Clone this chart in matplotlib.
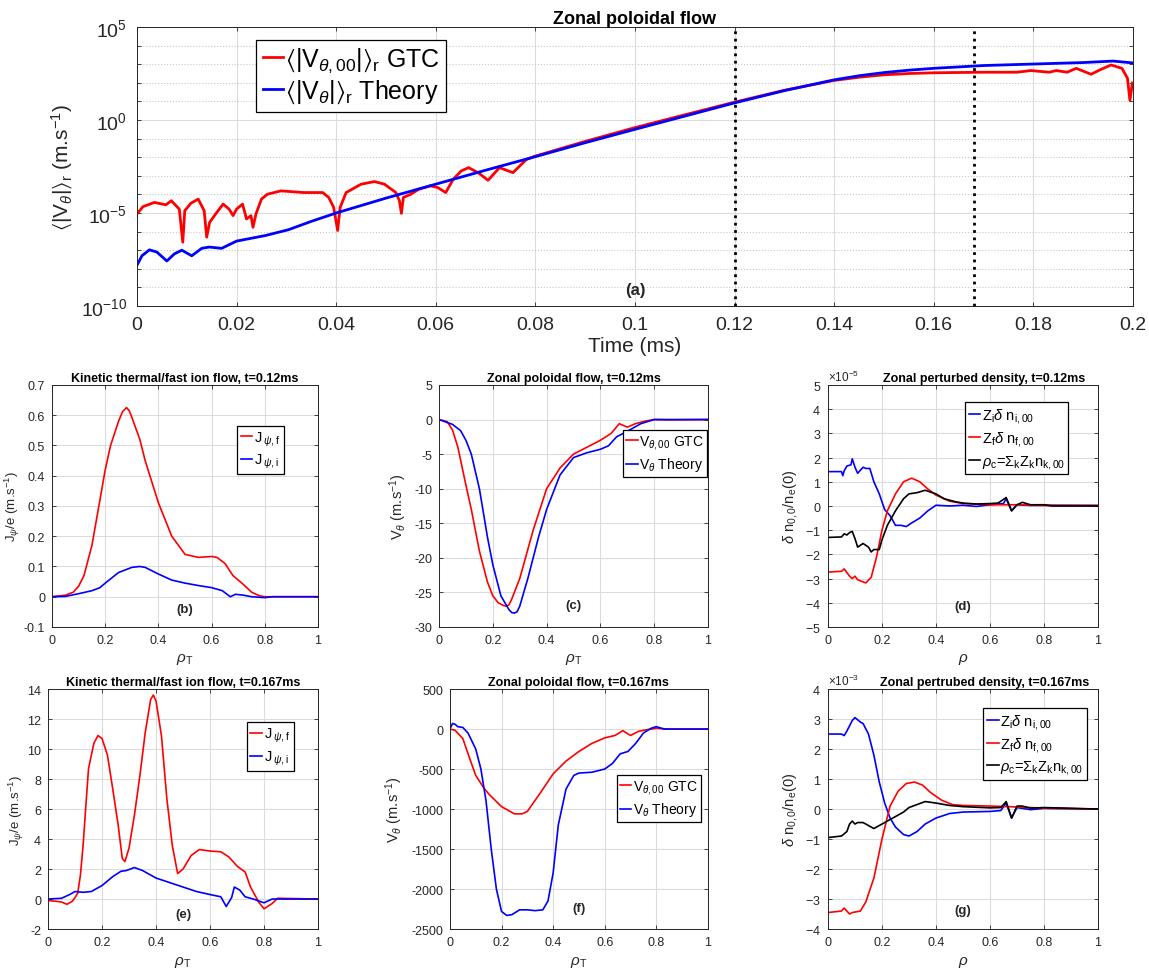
import numpy as np
import matplotlib
matplotlib.use("Agg")
import matplotlib.pyplot as plt
from matplotlib.ticker import FuncFormatter, NullFormatter, ScalarFormatter

plt.rcParams['font.family'] = ['Liberation Sans', 'DejaVu Sans']
plt.rcParams['mathtext.fontset'] = 'custom'
plt.rcParams['mathtext.rm'] = 'Liberation Sans'
plt.rcParams['mathtext.it'] = 'Liberation Sans:italic'
plt.rcParams['mathtext.bf'] = 'Liberation Sans:bold'
plt.rcParams['mathtext.fallback'] = 'stixsans'
plt.rcParams['axes.unicode_minus'] = False

# ---- (a) time history, log10 of <|V|>_r ----
t_gtc = [0, 0.0012, 0.0035, 0.0058, 0.0069, 0.0085, 0.0092, 0.0096, 0.0108, 0.0123,
         0.0135, 0.014, 0.0146, 0.0158, 0.0173, 0.0185, 0.0193, 0.02, 0.0212, 0.022,
         0.0229, 0.0233, 0.0239, 0.025, 0.0262, 0.0289, 0.0335, 0.0373, 0.0385, 0.0395,
         0.0403, 0.0408, 0.042, 0.045, 0.0477, 0.0497, 0.052, 0.0527, 0.0531, 0.0535,
         0.055, 0.0566, 0.0589, 0.0604, 0.062, 0.0635, 0.0651, 0.0666, 0.0685, 0.0705,
         0.0728, 0.0755, 0.0782, 0.08, 0.09, 0.1, 0.11, 0.12, 0.13, 0.14, 0.145, 0.15,
         0.155, 0.16, 0.17, 0.1767, 0.1795, 0.1832, 0.1846, 0.1868, 0.1886, 0.1916,
         0.1934, 0.1956, 0.1978, 0.1989, 0.1994, 0.1999]
logv_gtc = [-5.05, -4.66, -4.43, -4.56, -4.34, -4.79, -6.57, -4.88, -4.48, -4.25,
            -4.88, -6.30, -5.50, -5.05, -4.52, -4.79, -5.14, -4.79, -4.52, -5.32,
            -5.14, -5.77, -5.05, -4.25, -3.99, -3.81, -3.90, -3.90, -4.16, -4.70,
            -5.94, -4.70, -3.90, -3.45, -3.31, -3.45, -3.90, -4.34, -5.02, -4.16,
            -3.99, -3.72, -3.54, -3.63, -3.90, -3.19, -2.74, -2.56, -2.83, -3.24,
            -2.56, -2.83, -2.12, -1.94, -1.15, -0.41, 0.28, 0.96, 1.60, 2.13, 2.30, 2.43,
            2.50, 2.54, 2.57, 2.57, 2.66, 2.57, 2.66, 2.57, 2.78, 2.46,
            2.70, 2.96, 2.78, 2.25, 1.05, 1.99]
t_th = [0, 0.001, 0.0025, 0.004, 0.006, 0.0075, 0.009, 0.011, 0.013, 0.0145, 0.017,
        0.02, 0.0258, 0.0304, 0.035, 0.04, 0.05, 0.06, 0.07, 0.08, 0.09, 0.1, 0.11,
        0.12, 0.13, 0.14, 0.145, 0.15, 0.155, 0.16, 0.17, 0.18, 0.19, 0.196, 0.2]
logv_th = [-7.81, -7.3, -6.98, -7.1, -7.58, -7.2, -7.0, -7.3, -6.9, -6.83, -6.9,
           -6.51, -6.21, -5.9, -5.45, -5.0, -4.2, -3.45, -2.7, -1.97, -1.22, -0.5, 0.21,
           0.92, 1.58, 2.16, 2.38, 2.55, 2.68, 2.78, 2.93, 3.01, 3.09, 3.17, 3.07]
t_marks = [0.12, 0.168]

# ---- (b) kinetic flow t=0.12ms ----
rho_b_f = [0, 0.05, 0.08, 0.1, 0.12, 0.15, 0.18, 0.2, 0.22, 0.25, 0.265, 0.28, 0.29, 0.3,
           0.33, 0.35, 0.4, 0.45, 0.5, 0.55, 0.6, 0.62, 0.65, 0.68, 0.72, 0.75, 0.78, 0.8,
           1.0]
jf_b = [0, 0.005, 0.015, 0.035, 0.07, 0.17, 0.32, 0.42, 0.5, 0.58, 0.612, 0.625, 0.615,
        0.593, 0.52, 0.45, 0.31, 0.2, 0.14, 0.13, 0.133, 0.13, 0.11, 0.07, 0.04, 0.015,
        0.003, 0, 0]
rho_b_i = [0, 0.05, 0.1, 0.15, 0.18, 0.2, 0.25, 0.3, 0.33, 0.35, 0.4, 0.45, 0.5, 0.55,
           0.6, 0.64, 0.67, 0.69, 0.72, 0.75, 0.8, 0.83, 1.0]
ji_b = [0, 0.001, 0.01, 0.02, 0.03, 0.045, 0.08, 0.097, 0.1, 0.097, 0.075, 0.055, 0.045,
        0.037, 0.03, 0.02, 0.0, 0.008, 0.005, 0.0, -0.003, 0, 0]

# ---- (c) zonal flow t=0.12ms ----
rho_c_g = [0, 0.03, 0.05, 0.07, 0.1, 0.12, 0.15, 0.18, 0.2, 0.22, 0.24, 0.25, 0.26, 0.27,
           0.3, 0.35, 0.4, 0.45, 0.5, 0.55, 0.6, 0.64, 0.67, 0.7, 0.73, 0.77, 0.8, 0.85,
           1.0]
vg_c = [0, -0.3, -1.5, -4, -9.5, -13, -19, -23.5, -25.5, -26.5, -26.9, -27, -26.8, -26,
        -23, -16, -10, -7, -5, -4, -3, -2, -0.6, -1.1, -0.6, -0.2, 0, -0.05, 0]
rho_c_t = [0, 0.05, 0.08, 0.1, 0.12, 0.15, 0.18, 0.2, 0.23, 0.26, 0.27, 0.28, 0.29, 0.3,
           0.33, 0.37, 0.4, 0.45, 0.5, 0.55, 0.6, 0.63, 0.66, 0.7, 0.75, 0.8, 0.85, 1.0]
vt_c = [0, -0.7, -1.6, -3, -5, -10, -17, -21, -25.5, -27.5, -27.9, -28, -27.8, -27,
        -23, -17, -13, -8, -5.5, -4.8, -4.3, -3.8, -2.5, -1.7, -0.6, 0, 0, 0]

# ---- (d) zonal density t=0.12ms (units 1e-5) ----
rho_d_i = [0, 0.05, 0.055, 0.06, 0.07, 0.085, 0.09, 0.1, 0.11, 0.13, 0.14, 0.155, 0.17,
           0.19, 0.21, 0.23, 0.25, 0.27, 0.29, 0.31, 0.34, 0.37, 0.4, 0.45, 0.5, 0.55,
           0.6, 0.65, 0.66, 0.68, 0.7, 0.75, 0.8, 1.0]
ni_d = [1.42, 1.42, 1.25, 1.45, 1.65, 1.7, 1.95, 1.6, 1.35, 1.6, 1.55, 1.55, 1.0,
        0.5, -0.15, -0.4, -0.8, -0.8, -0.85, -0.7, -0.5, -0.2, 0.03, 0, 0.03, -0.02,
        0.05, 0.1, 0.3, -0.2, 0.05, 0.02, 0.03, 0.02]
rho_d_f = [0, 0.05, 0.06, 0.08, 0.09, 0.1, 0.11, 0.14, 0.16, 0.18, 0.2, 0.22, 0.25, 0.28,
           0.31, 0.34, 0.37, 0.4, 0.45, 0.5, 0.6, 0.7, 0.8, 1.0]
nf_d = [-2.73, -2.7, -2.6, -2.9, -3.0, -2.9, -3.05, -3.18, -2.95, -2.1, -1.0, -0.2, 0.5,
        1.0, 1.15, 1.0, 0.7, 0.45, 0.2, 0.1, 0.05, 0.05, 0.02, 0.02]
rho_d_c = [0, 0.05, 0.06, 0.07, 0.08, 0.09, 0.1, 0.11, 0.13, 0.15, 0.16, 0.17, 0.19, 0.2,
           0.22, 0.25, 0.28, 0.3, 0.33, 0.36, 0.4, 0.43, 0.47, 0.5, 0.55, 0.6, 0.63,
           0.66, 0.68, 0.7, 0.72, 0.75, 0.8, 0.83, 1.0]
nc_d = [-1.3, -1.28, -1.15, -1.2, -1.1, -1.05, -1.35, -1.7, -1.55, -1.7, -1.9, -1.8,
        -1.8, -1.4, -0.8, -0.2, 0.3, 0.5, 0.55, 0.65, 0.5, 0.3, 0.18, 0.12, 0.08, 0.1,
        0.12, 0.35, -0.2, 0.05, 0.15, 0.05, 0.05, 0, 0]

# ---- (e) kinetic flow t=0.167ms ----
rho_e_f = [0, 0.03, 0.05, 0.07, 0.09, 0.1, 0.11, 0.12, 0.13, 0.14, 0.15, 0.17, 0.185,
           0.2, 0.22, 0.24, 0.26, 0.275, 0.285, 0.3, 0.32, 0.34, 0.36, 0.38, 0.39, 0.4,
           0.42, 0.44, 0.46, 0.48, 0.5, 0.53, 0.56, 0.6, 0.64, 0.67, 0.7, 0.73, 0.75,
           0.78, 0.8, 0.83, 0.85, 1.0]
jf_e = [-0.1, -0.15, -0.2, -0.35, -0.15, 0.1, 0.4, 1.6, 3.6, 6.2, 8.7, 10.4, 10.9,
        10.7, 9.6, 7.3, 4.9, 2.7, 2.5, 3.4, 5.6, 8.2, 11.1, 13.3, 13.6, 13.2,
        10.9, 6.7, 3.6, 1.7, 2.0, 2.9, 3.3, 3.2, 3.15, 2.8, 2.2, 1.8, 0.8, -0.2,
        -0.65, -0.3, 0.05, 0]
rho_e_i = [0, 0.05, 0.08, 0.1, 0.13, 0.16, 0.2, 0.24, 0.27, 0.29, 0.32, 0.35, 0.4, 0.45,
           0.5, 0.55, 0.6, 0.64, 0.66, 0.68, 0.69, 0.71, 0.73, 0.76, 0.8, 0.83, 1.0]
ji_e = [0, 0.05, 0.3, 0.5, 0.45, 0.5, 0.9, 1.5, 1.85, 1.9, 2.1, 1.9, 1.4, 1.1,
        0.8, 0.5, 0.3, 0.15, -0.5, 0.1, 0.8, 0.6, 0.15, 0, -0.25, 0, 0]

# ---- (f) zonal flow t=0.167ms ----
rho_f_g = [0, 0.02, 0.05, 0.08, 0.1, 0.13, 0.15, 0.2, 0.25, 0.28, 0.3, 0.35, 0.4, 0.45,
           0.5, 0.55, 0.6, 0.64, 0.67, 0.7, 0.73, 0.76, 0.8, 0.85, 1.0]
vg_f = [0, -15, -120, -400, -580, -730, -810, -970, -1060, -1060, -1030, -800, -560,
        -400, -280, -180, -110, -80, -20, -80, -30, -10, 10, 0, 0]
rho_f_t = [0, 0.01, 0.02, 0.03, 0.05, 0.07, 0.1, 0.12, 0.14, 0.16, 0.18, 0.2, 0.22, 0.24,
           0.27, 0.3, 0.33, 0.36, 0.38, 0.4, 0.42, 0.45, 0.48, 0.5, 0.55, 0.6, 0.63,
           0.66, 0.69, 0.72, 0.75, 0.78, 0.8, 0.83, 1.0]
vt_f = [0, 70, 60, 30, 20, -50, -250, -500, -900, -1500, -2000, -2280, -2330, -2320,
        -2260, -2260, -2270, -2260, -2150, -1800, -1200, -750, -580, -550, -540, -500,
        -430, -310, -280, -180, -50, 10, 30, 0, 0]

# ---- (g) zonal density t=0.167ms (units 1e-3) ----
rho_g_i = [0, 0.05, 0.06, 0.07, 0.09, 0.1, 0.12, 0.13, 0.15, 0.17, 0.19, 0.21, 0.23,
           0.25, 0.28, 0.3, 0.33, 0.36, 0.4, 0.45, 0.5, 0.6, 0.64, 0.66, 0.68, 0.7,
           0.75, 0.8, 1.0]
ni_g = [2.5, 2.5, 2.45, 2.6, 2.95, 3.05, 2.9, 2.85, 2.5, 1.8, 0.9, 0.2, -0.3, -0.6,
        -0.85, -0.9, -0.75, -0.5, -0.3, -0.15, -0.1, -0.08, -0.05, 0.2, -0.3, 0.05,
        -0.02, 0.02, 0]
rho_g_f = [0, 0.05, 0.06, 0.08, 0.09, 0.12, 0.14, 0.17, 0.2, 0.23, 0.26, 0.29, 0.32,
           0.35, 0.38, 0.42, 0.46, 0.5, 0.6, 0.7, 0.8, 1.0]
nf_g = [-3.45, -3.4, -3.3, -3.5, -3.45, -3.4, -3.1, -2.3, -1.0, 0.1, 0.6, 0.85, 0.9,
        0.8, 0.55, 0.3, 0.15, 0.12, 0.1, 0.07, 0.03, 0]
rho_g_c = [0, 0.05, 0.07, 0.08, 0.09, 0.1, 0.11, 0.13, 0.15, 0.17, 0.2, 0.23, 0.26,
           0.28, 0.3, 0.33, 0.36, 0.4, 0.45, 0.5, 0.6, 0.64, 0.66, 0.68, 0.7, 0.72,
           0.75, 0.8, 1.0]
nc_g = [-0.95, -0.9, -0.75, -0.5, -0.4, -0.5, -0.45, -0.45, -0.55, -0.65, -0.5, -0.35,
        -0.2, -0.1, 0.05, 0.15, 0.25, 0.2, 0.12, 0.08, 0.04, 0.05, 0.25, -0.3, 0.1,
        0.1, 0.03, 0.05, 0]

TXT = '#262626'
GRID = '#dcdcdc'


def style(ax, fs=9, pad=4):
    ax.tick_params(direction='in', top=True, right=True, labelsize=fs, colors=TXT,
                   length=3, width=0.6, pad=pad)
    for s in ax.spines.values():
        s.set_color(TXT)
        s.set_linewidth(0.7)
    ax.grid(True, color=GRID, lw=0.8)
    ax.set_axisbelow(True)
    ax.xaxis.set_major_formatter(FuncFormatter(lambda v, p: '%g' % round(v, 6)))


def legend(ax, loc_xy, fs, spacing=0.3):
    lg = ax.legend(loc='upper left', bbox_to_anchor=loc_xy, fontsize=fs, frameon=True,
                   fancybox=False, edgecolor='k', handlelength=0.8, handletextpad=0.1,
                   borderpad=0.25, labelspacing=spacing, borderaxespad=0, framealpha=1)
    lg.get_frame().set_linewidth(0.9)
    return lg


fig = plt.figure(figsize=(11.49, 9.70), dpi=100)

# (a)
ax = fig.add_axes([0.1192, 0.6835, 0.8668, 0.2876])
ax.plot(t_gtc, 10.0 ** np.array(logv_gtc), color='r', lw=2,
        label=r'$\langle$|V$_{\theta,00}$|$\rangle_\mathrm{r}$ GTC')
ax.plot(t_th, 10.0 ** np.array(logv_th), color='b', lw=2,
        label=r'$\langle$|V$_{\theta}$|$\rangle_\mathrm{r}$ Theory')
for tm in t_marks:
    ax.axvline(tm, color='k', ls=':', lw=2)
ax.set_yscale('log')
ax.set_xlim(0, 0.2)
ax.set_ylim(1e-10, 1e5)
style(ax, fs=14, pad=7)
ax.set_xticks(np.arange(0, 0.2001, 0.02))
ax.set_yticks([1e-10, 1e-5, 1e0, 1e5])
ax.set_yticks([10.0 ** k for k in range(-9, 5) if k % 5], minor=True)
ax.yaxis.set_minor_formatter(NullFormatter())
ax.tick_params(which='minor', direction='in', right=True, length=3, width=0.6, colors=TXT)
ax.grid(True, which='minor', axis='y', color='#c8c8c8', ls=':', lw=0.8)
ax.set_xlabel('Time (ms)', fontsize=15, color=TXT, labelpad=2)
ax.set_ylabel(r'$\langle$|V$_\theta$|$\rangle_\mathrm{r}$ (m.s$^{-1}$)', fontsize=15,
              color=TXT)
ax.set_title('Zonal poloidal flow', fontsize=13, fontweight='bold', pad=3)
ax.text(0.5, 0.06, '(a)', transform=ax.transAxes, ha='center', va='center',
        fontsize=12, fontweight='bold', color=TXT)
legend(ax, (0.12, 0.955), 18, spacing=0.15)

panels = [
    ('b', [0.0453, 0.3526, 0.2315, 0.2495]),
    ('c', [0.3821, 0.3526, 0.2341, 0.2495]),
    ('d', [0.7206, 0.3526, 0.2350, 0.2495]),
    ('e', [0.0418, 0.0412, 0.2350, 0.2474]),
    ('f', [0.3916, 0.0412, 0.2245, 0.2474]),
    ('g', [0.7206, 0.0412, 0.2350, 0.2474]),
]
axs = {k: fig.add_axes(r) for k, r in panels}

lab_j = [r'J$\,_{\psi,\mathrm{f}}$', r'J$\,_{\psi,\mathrm{i}}$']
lab_v = [r'V$_{\theta,00}$ GTC', r'V$_\theta$ Theory']
lab_n = [r'Z$_\mathrm{i}\delta$ n$_\mathrm{i,00}$', r'Z$_\mathrm{f}\delta$ n$_\mathrm{f,00}$',
         r'$\rho_\mathrm{c}$=$\Sigma_\mathrm{k}$Z$_\mathrm{k}$n$_\mathrm{k,00}$']

YL = 10.5

# (b)
a = axs['b']
a.plot(rho_b_f, jf_b, 'r', lw=1.2, label=lab_j[0])
a.plot(rho_b_i, ji_b, 'b', lw=1.2, label=lab_j[1])
a.set_ylim(-0.1, 0.7)
a.set_title('Kinetic thermal/fast ion flow, t=0.12ms', fontsize=9, fontweight='bold', pad=3)
a.set_ylabel(r'J$_\psi$/e (m.s$^{-1}$)', fontsize=9.5, color=TXT, labelpad=1)
legend(a, (0.695, 0.832), 10.5)

# (c)
a = axs['c']
a.plot(rho_c_g, vg_c, 'r', lw=1.2, label=lab_v[0])
a.plot(rho_c_t, vt_c, 'b', lw=1.2, label=lab_v[1])
a.set_ylim(-30, 5)
a.set_title('Zonal poloidal flow, t=0.12ms', fontsize=9, fontweight='bold', pad=3)
a.set_ylabel(r'V$_\theta$ (m.s$^{-1}$)', fontsize=YL, color=TXT)
legend(a, (0.684, 0.815), 10)

# (d)
a = axs['d']
a.plot(rho_d_i, np.array(ni_d) * 1e-5, 'b', lw=1.2, label=lab_n[0])
a.plot(rho_d_f, np.array(nf_d) * 1e-5, 'r', lw=1.2, label=lab_n[1])
a.plot(rho_d_c, np.array(nc_d) * 1e-5, 'k', lw=1.2, label=lab_n[2])
a.set_ylim(-5e-5, 5e-5)
a.set_yticks(np.arange(-5, 5.1, 1) * 1e-5)
a.set_title('Zonal perturbed density, t=0.12ms', fontsize=9, fontweight='bold', pad=3,
            x=0.58)
a.set_ylabel(r'$\delta$ n$_{0,0}$/n$_\mathrm{e}$(0)', fontsize=YL, color=TXT)
legend(a, (0.507, 0.929), 10.5)

# (e)
a = axs['e']
a.plot(rho_e_f, jf_e, 'r', lw=1.2, label=lab_j[0])
a.plot(rho_e_i, ji_e, 'b', lw=1.2, label=lab_j[1])
a.set_ylim(-2, 14)
a.set_yticks(np.arange(-2, 14.1, 2))
a.set_title('Kinetic thermal/fast ion flow, t=0.167ms', fontsize=9, fontweight='bold',
            pad=3)
a.set_ylabel(r'J$_\psi$/e (m.s$^{-1}$)', fontsize=9.5, color=TXT, labelpad=1)
legend(a, (0.736, 0.861), 10.5)

# (f)
a = axs['f']
a.plot(rho_f_g, vg_f, 'r', lw=1.2, label=lab_v[0])
a.plot(rho_f_t, vt_f, 'b', lw=1.2, label=lab_v[1])
a.set_ylim(-2500, 500)
a.set_title('Zonal poloidal flow, t=0.167ms', fontsize=9, fontweight='bold', pad=3)
a.set_ylabel(r'V$_\theta$ (m.s$^{-1}$)', fontsize=YL, color=TXT)
legend(a, (0.647, 0.643), 10)

# (g)
a = axs['g']
a.plot(rho_g_i, np.array(ni_g) * 1e-3, 'b', lw=1.2, label=lab_n[0])
a.plot(rho_g_f, np.array(nf_g) * 1e-3, 'r', lw=1.2, label=lab_n[1])
a.plot(rho_g_c, np.array(nc_g) * 1e-3, 'k', lw=1.2, label=lab_n[2])
a.set_ylim(-4e-3, 4e-3)
a.set_yticks(np.arange(-4, 4.1, 1) * 1e-3)
a.set_title('Zonal pertrubed density, t=0.167ms', fontsize=9, fontweight='bold', pad=3,
            x=0.58)
a.set_ylabel(r'$\delta$ n$_{0,0}$/n$_\mathrm{e}$(0)', fontsize=YL, color=TXT)
legend(a, (0.575, 0.921), 10.5)

tags = {'b': 0.073, 'c': 0.09, 'd': 0.085, 'e': 0.0625, 'f': 0.089, 'g': 0.08}
for k, a in axs.items():
    a.set_xlim(0, 1)
    style(a, fs=9, pad=5)
    if k in ('d', 'g'):
        fmt = ScalarFormatter(useMathText=True)
        fmt.set_powerlimits((0, 0))
        a.yaxis.set_major_formatter(fmt)
        a.yaxis.get_offset_text().set_fontsize(8.5)
        a.yaxis.get_offset_text().set_color(TXT)
        a.set_xlabel(r'$\rho$', fontsize=11, color=TXT)
    else:
        a.yaxis.set_major_formatter(FuncFormatter(lambda v, p: '%g' % round(v, 6)))
        a.set_xlabel(r'$\rho_\mathrm{T}$', fontsize=11, color=TXT)
    a.text(0.5, tags[k], '(%s)' % k, transform=a.transAxes, ha='center', va='center',
           fontsize=9.5, fontweight='bold', color=TXT)

fig.savefig('out.png', dpi=100)
